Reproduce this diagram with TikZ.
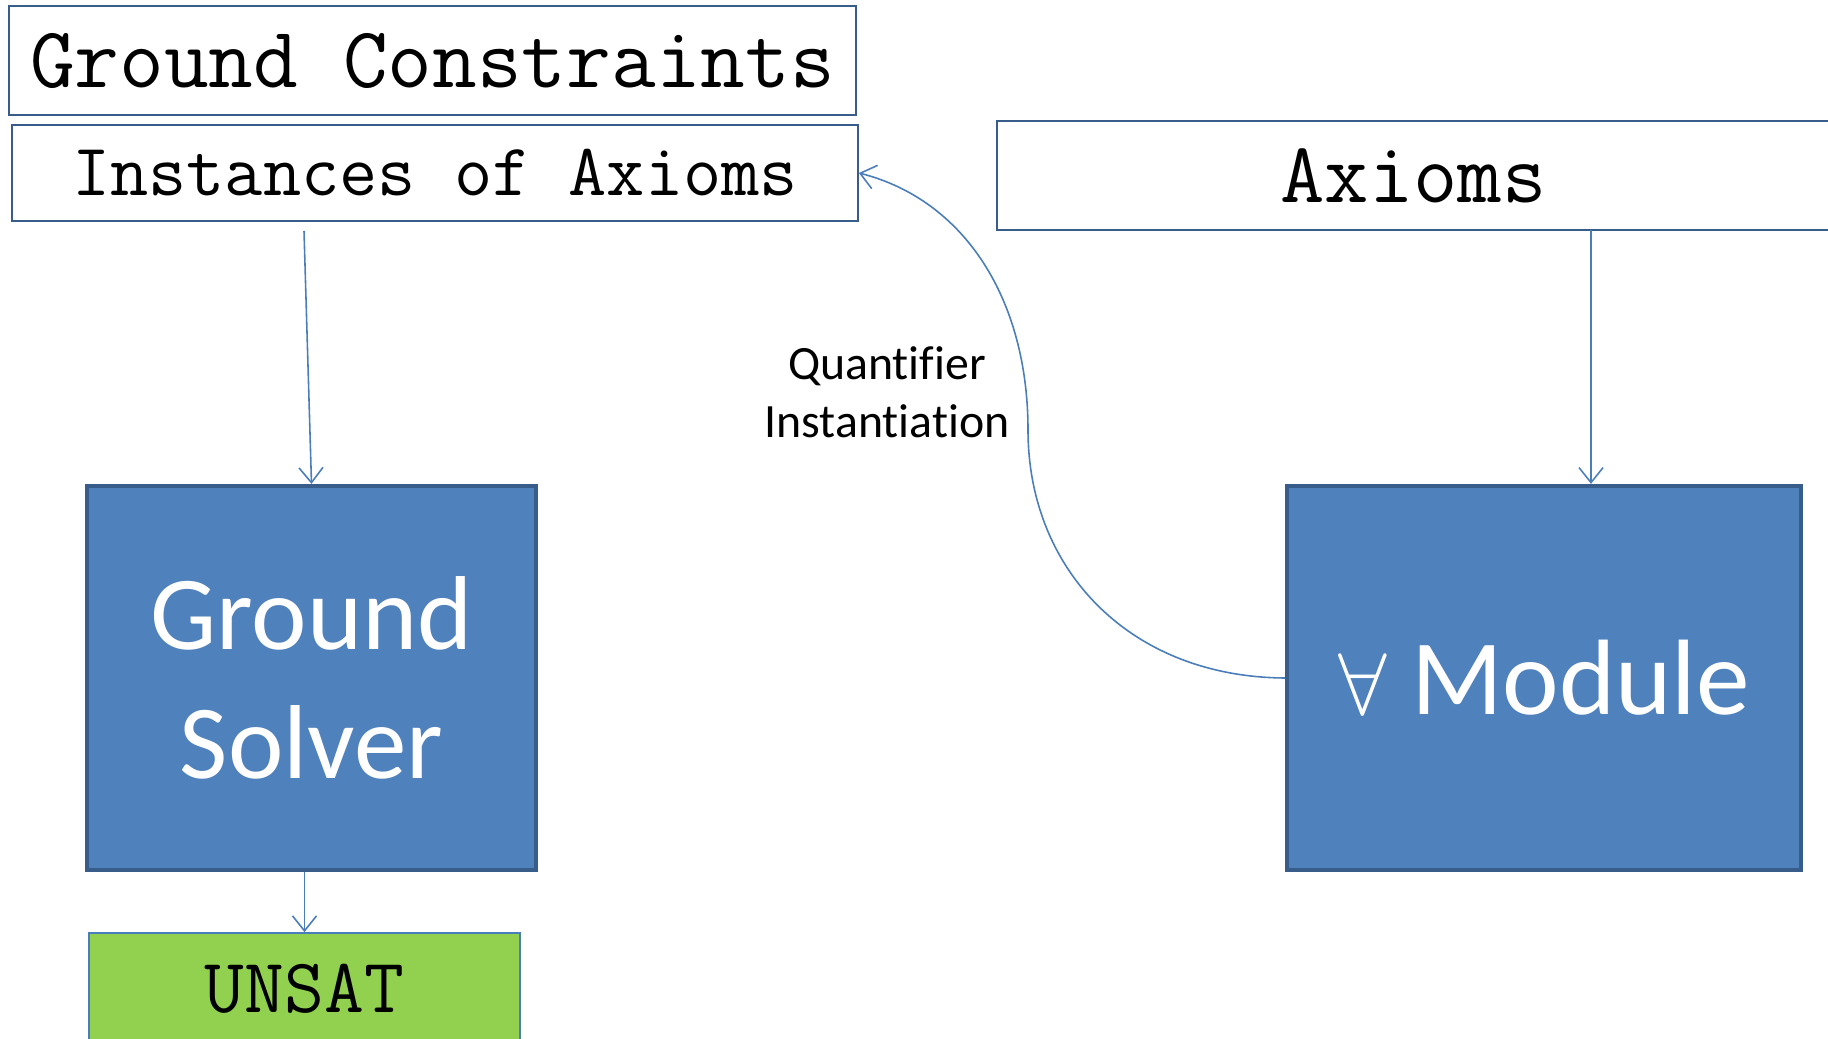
\documentclass[tikz,border=0pt]{standalone}
\usepackage{fontspec}
\setmainfont[Ligatures=NoCommon]{Carlito}
\usetikzlibrary{positioning,arrows.meta,calc}
\definecolor{boxblue}{RGB}{79,129,189}
\definecolor{edgeblue}{RGB}{56,93,138}
\definecolor{linkblue}{RGB}{74,126,187}
\definecolor{unsatgreen}{RGB}{146,208,80}

\begin{document}
\begin{tikzpicture}[x=0.1mm,y=-0.1mm,
  txtbox/.style={rectangle,draw=edgeblue,line width=0.5pt,fill=white,inner sep=0pt},
  solverbox/.style={rectangle,draw=edgeblue,line width=1.2pt,fill=boxblue,text=white,
                    inner sep=0pt,align=center},
  arr/.style={-{Straight Barb[length=1.5mm,width=2.4mm]},linkblue,line width=0.45pt}
]
\clip (0,0) rectangle (1828,1039);
\useasboundingbox (0,0) rectangle (1828,1039);

% input boxes
\node[txtbox,minimum width=84.7mm,minimum height=10.9mm,font=\ttfamily\fontsize{24.7}{28}\selectfont]
  (ground) at (432.5,60.5) {Ground Constraints};
\node[txtbox,minimum width=84.6mm,minimum height=9.6mm,font=\ttfamily\fontsize{21.1}{24}\selectfont]
  (inst) at (435,173) {Instances of Axioms};
\node[txtbox,minimum width=83.3mm,minimum height=10.9mm,font=\ttfamily\fontsize{24.5}{28}\selectfont]
  (axioms) at (1413.5,175.5) {Axioms};

% solvers
\node[solverbox,minimum width=44.9mm,minimum height=38.4mm,font=\fontsize{29.9}{36.5}\selectfont]
  (solver) at (311.5,678) {Ground\\Solver};
\node[solverbox,minimum width=51.4mm,minimum height=38.4mm,font=\fontsize{30.5}{36.5}\selectfont]
  (module) at (1544,678) {$\forall$ Module};

% result
\node[txtbox,fill=unsatgreen,draw=linkblue,minimum width=43.1mm,minimum height=11.1mm,
      font=\ttfamily\fontsize{22}{26}\selectfont]
  (unsat) at (304.5,988.5) {UNSAT};

\node[align=center,font=\fontsize{13.6}{16.5}\selectfont] (qi) at (887,392) {Quantifier\\Instantiation};

\coordinate (instout) at (304,231);
\coordinate (axout) at (1591,230);
\draw[arr] (instout) -- (solver.north);
\draw[arr] (axout) -- (axout |- module.north);
\draw[arr] (unsat.north |- solver.south) -- (unsat.north);
\draw[arr] (module.west) .. controls (1130,677) and (1028,570) .. (1028,430)
  .. controls (1028,300) and (965,200) .. (inst.east);
\end{tikzpicture}
\end{document}
